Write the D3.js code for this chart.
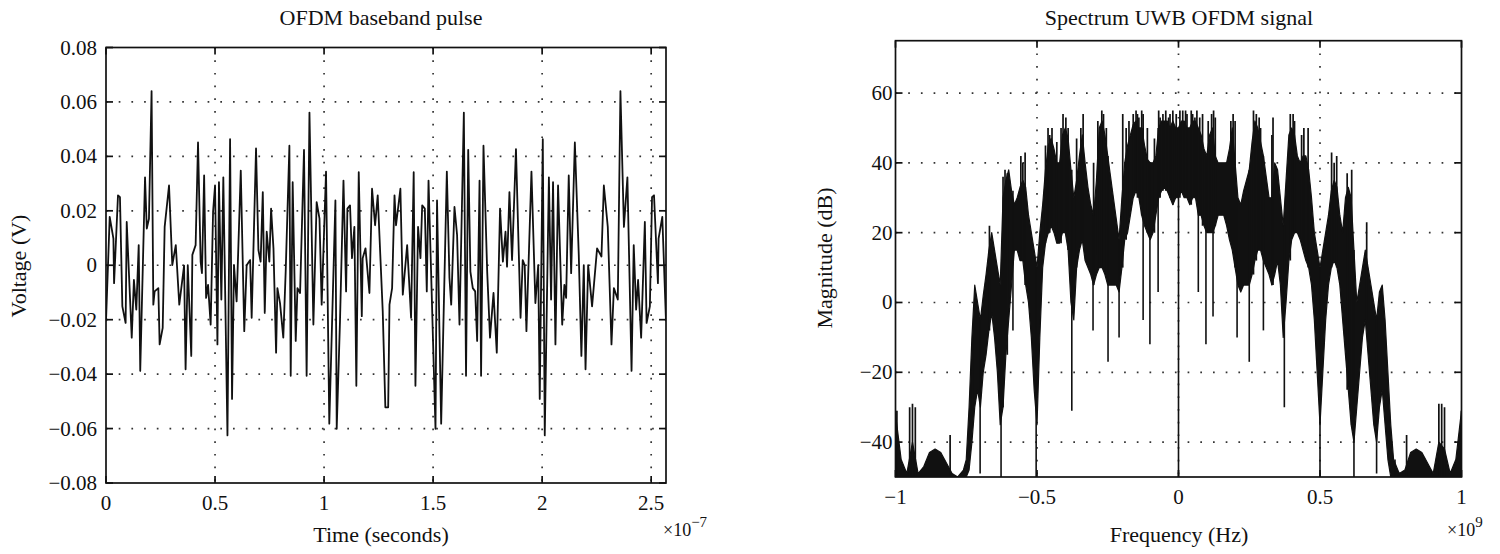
<!DOCTYPE html>
<html><head><meta charset="utf-8">
<script src="https://cdn.jsdelivr.net/npm/d3@7"></script>
<style>
body{margin:0;background:#fff;}
text{font-family:"Liberation Serif","DejaVu Serif",serif;fill:#111;}
</style></head>
<body><svg id="c" width="1500" height="554"></svg>
<script>
// ---------- Left: OFDM baseband pulse (time in 1e-7 s, voltage in V) ----------
const timeE7 = [0.000,0.017,0.034,0.037,0.055,0.064,0.075,0.090,0.095,0.118,0.128,0.139,0.150,0.157,0.179,0.187,0.197,0.209,0.217,0.223,0.240,0.246,0.260,0.269,0.289,0.304,0.320,0.336,0.358,0.365,0.375,0.391,0.396,0.411,0.422,0.434,0.440,0.450,0.459,0.468,0.480,0.491,0.500,0.511,0.518,0.529,0.538,0.557,0.569,0.578,0.587,0.599,0.618,
0.634,0.645,0.661,0.668,0.688,0.699,0.709,0.719,0.728,0.737,0.749,0.757,0.768,0.780,0.786,0.798,0.813,0.824,0.841,0.847,0.856,0.870,0.878,0.890,0.908,0.920,0.933,0.951,0.966,0.979,0.989,1.009,1.024,1.052,1.058,1.073,1.089,1.101,1.107,1.119,1.128,1.139,1.148,1.159,1.173,1.177,1.190,1.208,1.220,1.234,1.246,
1.269,1.281,1.294,1.300,1.312,1.323,1.330,1.350,1.361,1.381,1.399,1.411,1.419,1.431,1.442,1.450,1.462,1.471,1.479,1.511,1.518,1.537,1.563,1.575,1.583,1.598,1.610,1.621,1.641,1.651,1.661,1.671,1.682,1.693,1.702,1.713,1.720,1.731,1.748,1.761,1.777,1.792,1.807,1.820,1.832,1.839,1.850,1.862,1.880,
1.901,1.911,1.920,1.928,1.951,1.969,1.982,1.989,2.003,2.012,2.031,2.041,2.050,2.061,2.073,2.092,2.102,2.110,2.122,2.133,2.150,2.168,2.180,2.191,2.199,2.211,2.229,2.252,2.272,2.283,2.301,2.318,2.329,2.347,2.359,2.375,2.391,2.410,2.420,2.431,2.440,2.454,2.471,2.479,2.494,2.504,2.513,2.531,2.534,2.551,2.568];
const voltage = [-0.0206,0.0178,0.0098,-0.0066,0.0257,0.0250,-0.0151,-0.0212,0.0159,-0.0266,-0.0054,-0.0163,0.0074,-0.0388,0.0323,0.0135,0.0171,0.0640,-0.0145,-0.0096,-0.0084,-0.0291,-0.0230,0.0141,0.0293,0.0001,0.0074,-0.0145,-0.0001,-0.0382,0.0,-0.0333,0.0038,0.0074,0.0451,0.0013,-0.0029,0.0330,-0.0120,-0.0072,-0.0218,0.0196,0.0293,-0.0291,0.0305,-0.0126,0.0323,-0.0625,0.0463,-0.0491,0.0,-0.0133,0.0348,
-0.0242,0.0,0.0019,-0.0193,0.0429,0.0056,0.0013,0.0269,-0.0175,0.0123,0.0013,0.0208,0.0062,-0.0321,-0.0084,-0.0139,-0.0266,-0.0023,0.0439,-0.0406,0.0305,-0.0278,-0.0084,-0.0102,0.0424,-0.0406,0.0561,-0.0218,0.0232,0.0171,-0.0145,0.0344,-0.0582,0.0238,-0.0601,-0.0206,0.0311,-0.0096,0.0208,0.0220,0.0026,0.0141,-0.0443,0.0342,-0.0187,0.0026,0.0062,-0.0102,0.0281,0.0147,0.0257,
-0.0169,-0.0522,-0.0522,-0.0145,-0.0084,0.0257,0.0147,0.0281,-0.0108,0.0074,-0.0193,0.0342,-0.0443,0.0141,0.0026,0.0220,0.0208,-0.0096,0.0311,-0.0601,0.0238,-0.0582,0.0344,-0.0047,-0.0145,0.0214,0.0111,-0.0218,0.0561,-0.0406,0.0424,-0.0023,-0.0084,-0.0096,-0.0278,0.0311,-0.0406,0.0439,-0.0023,-0.0266,-0.0102,-0.0321,0.0208,0.0013,0.0123,-0.0005,0.0269,0.0019,0.0427,
-0.0193,0.0019,0.0,-0.0242,0.0344,-0.0139,0.0,-0.0491,0.0463,-0.0625,0.0323,-0.0126,0.0305,-0.0291,0.0293,-0.0218,-0.0072,-0.0120,0.0330,-0.0029,0.0451,0.0038,-0.0333,0.0,-0.0382,0.0,-0.0151,0.0062,0.0032,0.0293,0.0141,-0.0291,-0.0084,-0.0126,0.0640,0.0141,0.0323,-0.0388,0.0074,-0.0163,-0.0054,-0.0266,0.0159,-0.0212,-0.0151,0.0250,0.0257,-0.0066,0.0098,0.0178,-0.0206];
const leftXTicks = [0,0.5,1,1.5,2,2.5];
const leftXTickLabels = ["0","0.5","1","1.5","2","2.5"];
const leftYTicks = [-0.08,-0.06,-0.04,-0.02,0,0.02,0.04,0.06,0.08];
const leftYTickLabels = ["\u22120.08","\u22120.06","\u22120.04","\u22120.02","0","0.02","0.04","0.06","0.08"];

// ---------- Right: Spectrum (frequency in 1e9 Hz, magnitude in dB) ----------
// dense oscillation band read as top / bottom of the black mass
const specFreq = [-1.00,-0.98,-0.96,-0.94,-0.92,-0.90,-0.88,-0.86,-0.84,-0.82,-0.80,-0.78,
-0.76,-0.75,-0.74,-0.73,-0.72,-0.71,-0.70,-0.69,-0.68,-0.67,-0.66,-0.65,-0.64,-0.63,-0.62,-0.61,-0.60,-0.59,-0.58,-0.57,
-0.56,-0.55,-0.54,-0.53,-0.52,-0.51,-0.50,-0.49,-0.48,-0.47,-0.46,-0.45,-0.44,-0.43,-0.42,-0.41,-0.40,-0.39,-0.38,-0.37,
-0.36,-0.35,-0.34,-0.33,-0.32,-0.31,-0.30,-0.29,-0.28,-0.27,-0.26,-0.25,-0.24,-0.23,-0.22,-0.21,-0.20,-0.19,-0.18,-0.17,
-0.16,-0.15,-0.14,-0.13,-0.12,-0.11,-0.10,-0.09,-0.08,-0.07,-0.06,-0.05,-0.04,-0.03,-0.02,-0.01,0.00,
0.01,0.02,0.03,0.04,0.05,0.06,0.07,0.08,0.09,0.10,0.11,0.12,0.13,0.14,0.15,0.16,0.17,0.18,0.19,0.20,
0.21,0.22,0.23,0.24,0.25,0.26,0.27,0.28,0.29,0.30,0.31,0.32,0.33,0.34,0.35,0.36,0.37,0.38,0.39,0.40,
0.41,0.42,0.43,0.44,0.45,0.46,0.47,0.48,0.49,0.50,0.51,0.52,0.53,0.54,0.55,0.56,0.57,0.58,0.59,0.60,
0.61,0.62,0.63,0.64,0.65,0.66,0.67,0.68,0.69,0.70,0.71,0.72,0.73,0.74,0.75,0.76,
0.78,0.80,0.82,0.84,0.86,0.88,0.90,0.92,0.94,0.96,0.98,1.00];
const specTop = [-32,-45,-49,-40,-49,-47,-43,-42,-43,-46,-49,-50,
-48,-45,-30,-10,5,0,-5,2,8,15,20,15,10,5,30,35,38,32,28,30,
33,35,33,25,20,15,10,20,28,38,45,47,44,40,40,48,50,47,38,30,
35,42,48,40,33,28,25,35,50,52,48,42,36,30,24,18,30,40,45,48,
51,52,50,50,45,41,40,40,42,50,52,52,52,50,52,50,50,
52,52,50,50,52,52,50,48,44,42,48,50,42,40,40,40,40,44,50,40,
30,28,32,35,38,46,52,50,46,42,36,30,30,40,38,30,22,35,48,50,
48,42,40,42,42,38,30,20,15,10,15,20,25,32,35,33,25,20,30,33,
30,15,0,5,10,15,10,5,0,-5,3,5,-5,-20,-35,-45,
-49,-48,-43,-42,-43,-46,-49,-40,-42,-49,-45,-31];
const specBottom = [-50,-50,-50,-50,-50,-50,-50,-50,-50,-50,-50,-50,
-50,-50,-48,-40,-30,-25,-30,-20,-15,-8,-3,-10,-20,-35,-30,-15,-5,5,15,15,
12,12,5,0,-10,-25,-35,-10,10,17,20,22,20,17,17,20,20,15,0,-5,
10,15,18,12,10,8,5,8,10,10,8,5,5,5,5,3,10,18,20,25,
30,32,30,25,22,20,18,20,25,30,32,33,32,30,28,30,30,
32,30,30,28,30,30,25,25,22,20,20,20,22,25,25,25,22,18,15,10,
5,3,5,5,5,8,12,15,15,12,10,8,5,8,12,5,-10,0,12,18,
20,20,18,15,12,10,5,-5,-20,-35,-20,-5,5,10,12,10,5,-5,-15,-25,
-35,-40,-30,-20,-10,-5,-15,-25,-35,-40,-30,-25,-35,-45,-50,-50,
-50,-50,-50,-50,-50,-50,-50,-50,-50,-50,-50,-50];
// thin peaks rising above the dense band
const peakFreq = [-1.0,-0.995,-0.95,-0.94,-0.93,-0.807,-0.668,-0.62,-0.613,-0.605,-0.557,-0.55,-0.542,-0.47,-0.461,-0.455,-0.447,-0.43,-0.415,-0.408,-0.398,-0.39,-0.36,-0.345,-0.337,-0.30,-0.285,-0.271,-0.265,-0.255,-0.197,-0.185,-0.175,-0.16,-0.15,-0.145,-0.14,-0.13,-0.125,-0.11,-0.085,-0.07,-0.065,-0.055,-0.045,-0.035,-0.03,-0.02,-0.008,
0.005,0.015,0.025,0.03,0.045,0.05,0.058,0.065,0.075,0.085,0.105,0.117,0.124,0.13,0.185,0.193,0.2,0.265,0.275,0.285,0.29,0.33,0.334,0.395,0.405,0.41,0.435,0.443,0.458,0.541,0.55,0.559,0.596,0.612,0.665,0.806,0.92,0.93,0.94,1.0];
const peakDb = [-31,-31,-30,-29,-30,-38,22,36,38,37,42,40,43,45,50,48,50,46,50,54,53,50,47,50,54,40,52,55,54,50,54,50,52,54,55,54,53,55,54,50,47,55,53,54,55,53,54,55,54,
55,55,55,54,55,54,53,55,53,54,52,54,55,53,52,54,52,55,54,53,50,48,53,54,54,52,48,50,50,43,40,42,37,38,23,-38,-29,-29,-30,-31];
// thin nulls dropping below the dense band
const nullFreq = [-0.727,-0.701,-0.627,-0.585,-0.503,-0.377,-0.302,-0.249,-0.21,-0.125,-0.101,-0.072,0.0,0.07,0.097,0.122,0.207,0.25,0.30,0.374,0.50,0.62,0.70,0.765];
const nullDb   = [-31,-49,-50,-8,-50,-31,-8,-17,-10,-5,-12,3,-50,3,-12,-4,-10,-17,-8,-30,-50,-50,-49,-50];
const rightXTicks = [-1,-0.5,0,0.5,1];
const rightXTickLabels = ["\u22121","\u22120.5","0","0.5","1"];
const rightYTicks = [-40,-20,0,20,40,60];
const rightYTickLabels = ["\u221240","\u221220","0","20","40","60"];

const svg = d3.select("#c");
const ink = "#111";
const FS = 21;

function grid(g, x, y, xt, yt) {
  const [x0,x1] = x.range(), [y1,y0] = y.range();
  const gr = g.append("g").attr("stroke","#333").attr("stroke-width",1.7).attr("stroke-dasharray","1.7,11");
  xt.forEach(v => { if (x(v) > x0+1 && x(v) < x1-1) gr.append("line").attr("x1",x(v)).attr("x2",x(v)).attr("y1",y0).attr("y2",y1); });
  yt.forEach(v => { if (y(v) > y0+1 && y(v) < y1-1) gr.append("line").attr("y1",y(v)).attr("y2",y(v)).attr("x1",x0).attr("x2",x1); });
}
function box(g, x, y, xt, xtl, yt, ytl, ylabGap) {
  const [x0,x1] = x.range(), [y1,y0] = y.range();
  g.append("rect").attr("x",x0).attr("y",y0).attr("width",x1-x0).attr("height",y1-y0)
    .attr("fill","none").attr("stroke",ink).attr("stroke-width",1.7);
  const tk = g.append("g").attr("stroke",ink).attr("stroke-width",1.7);
  const L = 7;
  xt.forEach(v => {
    tk.append("line").attr("x1",x(v)).attr("x2",x(v)).attr("y1",y1).attr("y2",y1-L);
    tk.append("line").attr("x1",x(v)).attr("x2",x(v)).attr("y1",y0).attr("y2",y0+L);
  });
  yt.forEach(v => {
    tk.append("line").attr("y1",y(v)).attr("y2",y(v)).attr("x1",x0).attr("x2",x0+L);
    tk.append("line").attr("y1",y(v)).attr("y2",y(v)).attr("x1",x1).attr("x2",x1-L);
  });
  xt.forEach((v,i) => g.append("text").attr("x",x(v)).attr("y",y1+27).attr("text-anchor","middle")
    .attr("font-size",FS).text(xtl[i]));
  yt.forEach((v,i) => g.append("text").attr("x",x0-ylabGap).attr("y",y(v)+7).attr("text-anchor","end")
    .attr("font-size",FS).text(ytl[i]));
}
function expLabel(g, x, y, sup) {
  const t = g.append("text").attr("x",x).attr("y",y).attr("font-size",18);
  t.append("tspan").text("\u00d710");
  t.append("tspan").attr("dy",-9).attr("font-size",15).text(sup);
}

// ----- left panel -----
const xL = d3.scaleLinear().domain([0,2.568]).range([106,666]);
const yL = d3.scaleLinear().domain([-0.08,0.08]).range([483,47.5]);
const gL = svg.append("g");
grid(gL, xL, yL, leftXTicks, leftYTicks);
svg.append("clipPath").attr("id","cpL").append("rect").attr("x",106).attr("y",47.5).attr("width",560).attr("height",435.5);
gL.append("path").datum(timeE7.map((t,i)=>[t,voltage[i]]))
  .attr("clip-path","url(#cpL)")
  .attr("fill","none").attr("stroke",ink).attr("stroke-width",1.8).attr("stroke-linejoin","round")
  .attr("d", d3.line().x(d=>xL(d[0])).y(d=>yL(d[1])));
box(gL, xL, yL, leftXTicks, leftXTickLabels, leftYTicks, leftYTickLabels, 9);
gL.append("text").attr("x",381).attr("y",25).attr("text-anchor","middle").attr("font-size",22).text("OFDM baseband pulse");
gL.append("text").attr("x",381).attr("y",542).attr("text-anchor","middle").attr("font-size",22).text("Time (seconds)");
gL.append("text").attr("transform","translate(26,266) rotate(-90)").attr("text-anchor","middle").attr("font-size",22).text("Voltage (V)");
expLabel(gL, 663, 536, "\u22127");

// ----- right panel -----
const xR = d3.scaleLinear().domain([-1,1]).range([895.5,1461.5]);
const yR = d3.scaleLinear().domain([-50,75]).range([477,40.7]);
const gR = svg.append("g");
grid(gR, xR, yR, rightXTicks, rightYTicks);
svg.append("clipPath").attr("id","cpR").append("rect").attr("x",895.5).attr("y",40.7).attr("width",566).attr("height",436.3);
const spec = specFreq.map((f,i)=>({f, hi:specTop[i], lo:specBottom[i]}));
const near = f => spec.reduce((a,b)=> Math.abs(b.f-f)<Math.abs(a.f-f)?b:a);
const gS = gR.append("g").attr("clip-path","url(#cpR)");
gS.append("path").datum(spec)
  .attr("fill",ink).attr("stroke",ink).attr("stroke-width",1.2).attr("stroke-linejoin","round")
  .attr("d", d3.area().x(d=>xR(d.f)).y0(d=>yR(d.lo)).y1(d=>yR(d.hi)));
peakFreq.forEach((f,i)=>{
  gS.append("line").attr("x1",xR(f)).attr("x2",xR(f))
    .attr("y1",yR(peakDb[i])).attr("y2",yR(near(f).lo)).attr("stroke",ink).attr("stroke-width",1.7);
});
nullFreq.forEach((f,i)=>{
  gS.append("line").attr("x1",xR(f)).attr("x2",xR(f))
    .attr("y1",yR(nullDb[i])).attr("y2",yR(near(f).hi)).attr("stroke",ink).attr("stroke-width",1.6);
});
box(gR, xR, yR, rightXTicks, rightXTickLabels, rightYTicks, rightYTickLabels, 3);
gR.append("text").attr("x",1179).attr("y",25).attr("text-anchor","middle").attr("font-size",22).text("Spectrum UWB OFDM signal");
gR.append("text").attr("x",1179).attr("y",542).attr("text-anchor","middle").attr("font-size",22).text("Frequency (Hz)");
gR.append("text").attr("transform","translate(832,258) rotate(-90)").attr("text-anchor","middle").attr("font-size",22).text("Magnitude (dB)");
expLabel(gR, 1447, 536, "9");
</script></body></html>
